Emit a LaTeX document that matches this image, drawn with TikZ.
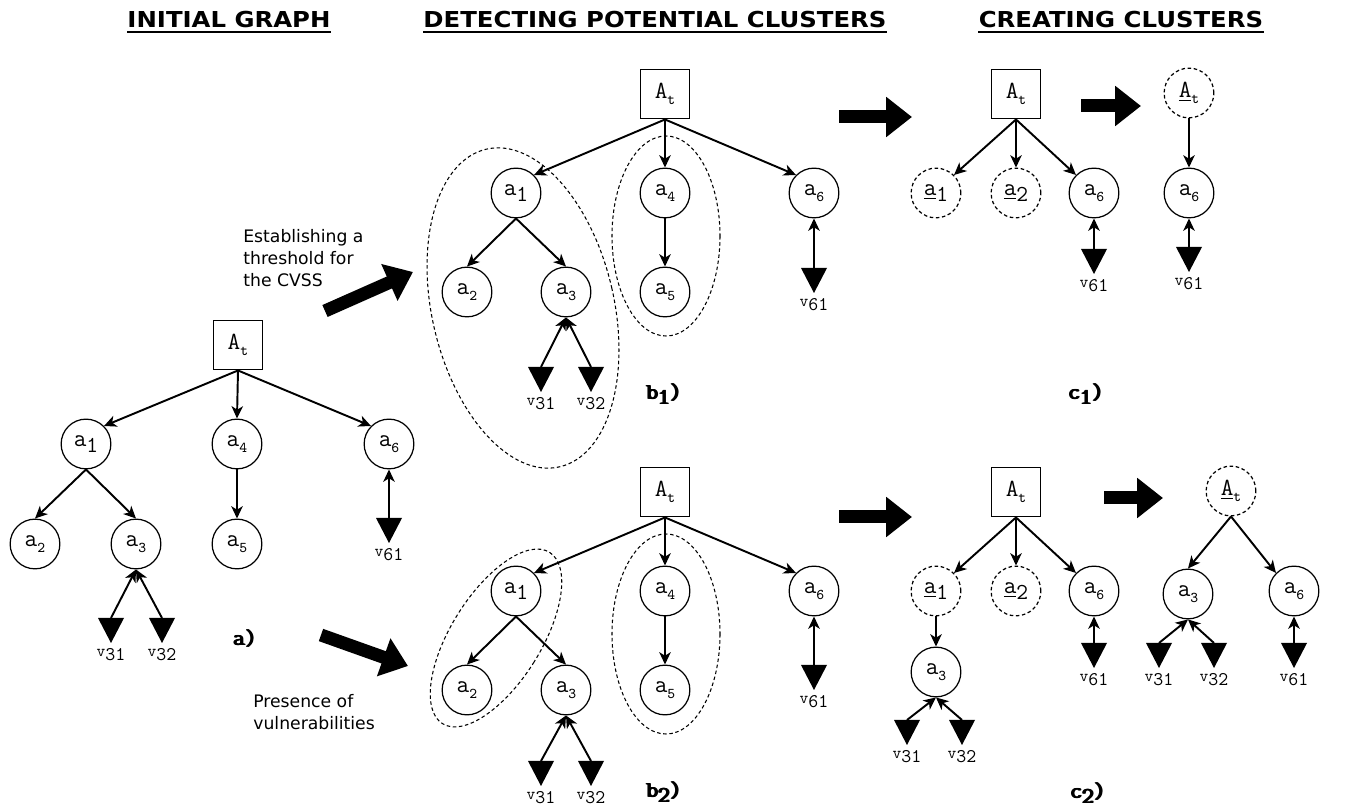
\documentclass[tikz,border=0pt]{standalone}
\usepackage{fontspec}
\usepackage{graphicx}
\setmainfont{DejaVu Sans}
\usetikzlibrary{arrows.meta,positioning}
\tikzstyle{attack} = [draw, rectangle, line width=0.7pt, minimum size=28.3pt, inner sep=0pt, font=\fontsize{14}{14}\selectfont\ttfamily]
\tikzstyle{asset} = [draw, circle, line width=0.7pt, minimum size=28.3pt, inner sep=0pt, font=\fontsize{14}{14}\selectfont\ttfamily]
\tikzstyle{merged} = [asset, dash pattern=on 2pt off 1.5pt]
\tikzstyle{link} = [line width=1.1pt, -{Stealth[length=7pt,width=6.5pt,inset=2pt]}]
\tikzstyle{group} = [line width=0.6pt, dash pattern=on 2pt off 1.5pt]
\tikzstyle{bigarrow} = [line width=7.4pt, -{Triangle[length=14.7pt,width=22pt]}]
\tikzstyle{vlab} = [inner sep=0pt, font=\ttfamily]
\tikzstyle{panel} = [inner sep=0pt, font=\fontsize{13}{13}\selectfont\ttfamily]
\tikzstyle{heading} = [inner sep=0pt, font=\fontsize{12.5}{15}\selectfont\bfseries]
\tikzstyle{note} = [inner sep=0pt, align=left, font=\fontsize{9.8}{12.5}\selectfont]
\newcommand{\asub}[2]{#1\raisebox{-3.5pt}{\fontsize{8.5}{8.5}\selectfont #2}}
\newcommand{\anum}[2]{\raisebox{1pt}{#1}\raisebox{-2pt}{\fontsize{13}{13}\selectfont #2}}
\newcommand{\vname}[1]{\raisebox{1pt}{\fontsize{9.5}{9.5}\selectfont v}\raisebox{-1.5pt}{\fontsize{11}{11}\selectfont #1}}
\newcommand{\hd}[1]{\scalebox{1.11}[1]{#1}}
\newcommand{\heavy}[1]{\rlap{#1}\hspace{0.35pt}\rlap{#1}\hspace{0.35pt}\rlap{#1}\hspace{0.35pt}#1}
\newcommand{\vuln}[3]{%
  \coordinate (#1) at #2;
  \fill (#1) ++(-13,0) -- ++(26,0) -- ++(-13,25) -- cycle;
  \path (#1) ++(0,37) node[vlab] (#1l) {\vname{#3}};}

\begin{document}
\begin{tikzpicture}[x=0.02cm,y=-0.02cm]
\useasboundingbox (0,0) rectangle (1360,810);

% headings
\node[heading] (h1) at (229,20) {\hd{INITIAL GRAPH}};
\node[heading] (h2) at (655,20) {\hd{DETECTING POTENTIAL CLUSTERS}};
\node[heading] (h3) at (1121,20) {\hd{CREATING CLUSTERS}};
\foreach \h in {h1,h2,h3}
  \draw[line width=1.1pt] ([yshift=-2pt]\h.south west) -- ([yshift=-2pt]\h.south east);

% a) initial graph
\node[attack] (Ata) at (238,345) {\asub{A}{t}};
\node[asset] (a1a) at (86,444) {\anum{a}{1}};
\node[asset] (a4a) at (237,444) {\asub{a}{4}};
\node[asset] (a6a) at (389,444) {\asub{a}{6}};
\node[asset] (a2a) at (35,544) {\asub{a}{2}};
\node[asset] (a3a) at (136,544) {\asub{a}{3}};
\node[asset] (a5a) at (237,544) {\asub{a}{5}};
\draw[link] (Ata.south) -- (a1a.north east);
\draw[link] (Ata.south) -- (a4a.north);
\draw[link] (Ata.south) -- (a6a.north west);
\draw[link] (a1a.south) -- (a2a.north);
\draw[link] (a1a.south) -- (a3a.north);
\draw[link] (a4a.south) -- (a5a.north);
\vuln{v61a}{(389,518)}{61}
\vuln{v31a}{(111,618)}{31}
\vuln{v32a}{(162,618)}{32}
\draw[link] (v61a) -- (a6a.south);
\draw[link] (v31a) -- (a3a.south);
\draw[link] (v32a) -- (a3a.south);
\node[panel] (la) at (245,639) {\heavy{a)}};

% criteria
\coordinate (cvss s) at (325,311);
\coordinate (cvss e) at (413,272);
\draw[bigarrow] (cvss s) -- (cvss e);
\node[note, anchor=north west] (cvss) at (243,229) {Establishing a\\threshold for\\the CVSS};
\coordinate (pres s) at (321,635);
\coordinate (pres e) at (408,666);
\draw[bigarrow] (pres s) -- (pres e);
\node[note, anchor=north west] (pres) at (253,694) {Presence of\\vulnerabilities};

% b1) detecting
\node[attack] (Atb1) at (665,94) {\asub{A}{t}};
\node[asset] (a1b1) at (516,193) {\anum{a}{1}};
\node[asset] (a4b1) at (665,193) {\asub{a}{4}};
\node[asset] (a6b1) at (814,193) {\asub{a}{6}};
\node[asset] (a2b1) at (467,292) {\asub{a}{2}};
\node[asset] (a3b1) at (566,292) {\asub{a}{3}};
\node[asset] (a5b1) at (665,292) {\asub{a}{5}};
\draw[link] (Atb1.south) -- (a1b1.north east);
\draw[link] (Atb1.south) -- (a4b1.north);
\draw[link] (Atb1.south) -- (a6b1.north west);
\draw[link] (a1b1.south) -- (a2b1.north);
\draw[link] (a1b1.south) -- (a3b1.north);
\draw[link] (a4b1.south) -- (a5b1.north);
\vuln{v61b1}{(814,268)}{61}
\vuln{v31b1}{(541,367)}{31}
\vuln{v32b1}{(591,367)}{32}
\draw[link] (v61b1) -- (a6b1.south);
\draw[link] (v31b1) -- (a3b1.south);
\draw[link] (v32b1) -- (a3b1.south);
\draw[group, rotate around={13:(523,308)}] (523,308) ellipse [x radius=91, y radius=163];
\draw[group] (666,236) ellipse [x radius=54, y radius=100];
\node[panel] (lb1) at (664,394) {\heavy{b\raisebox{-3pt}{1})}};

% b2) detecting
\node[attack] (Atb2) at (665,492) {\asub{A}{t}};
\node[asset] (a1b2) at (516,591) {\anum{a}{1}};
\node[asset] (a4b2) at (665,591) {\asub{a}{4}};
\node[asset] (a6b2) at (814,591) {\asub{a}{6}};
\node[asset] (a2b2) at (467,690) {\asub{a}{2}};
\node[asset] (a3b2) at (566,690) {\asub{a}{3}};
\node[asset] (a5b2) at (665,690) {\asub{a}{5}};
\draw[link] (Atb2.south) -- (a1b2.north east);
\draw[link] (Atb2.south) -- (a4b2.north);
\draw[link] (Atb2.south) -- (a6b2.north west);
\draw[link] (a1b2.south) -- (a2b2.north);
\draw[link] (a1b2.south) -- (a3b2.north);
\draw[link] (a4b2.south) -- (a5b2.north);
\vuln{v61b2}{(814,665)}{61}
\vuln{v31b2}{(541,761)}{31}
\vuln{v32b2}{(591,761)}{32}
\draw[link] (v61b2) -- (a6b2.south);
\draw[link] (v31b2) -- (a3b2.south);
\draw[link] (v32b2) -- (a3b2.south);
\draw[group, rotate around={-32:(496,638)}] (496,638) ellipse [x radius=45, y radius=101];
\draw[group] (666,634) ellipse [x radius=54, y radius=100];
\node[panel] (lb2) at (664,792) {\heavy{b\raisebox{-3pt}{2})}};

% c1) creating
\coordinate (c1 s) at (839,117);
\coordinate (c1 e) at (912,117);
\draw[bigarrow] (c1 s) -- (c1 e);
\node[attack] (Atc1) at (1016,94) {\asub{A}{t}};
\node[merged] (a1c1) at (936,193) {\anum{\underline{a}}{1}};
\node[merged] (a2c1) at (1016,193) {\anum{\underline{a}}{2}};
\node[asset] (a6c1) at (1094,193) {\asub{a}{6}};
\draw[link] (Atc1.south) -- (a1c1.north east);
\draw[link] (Atc1.south) -- (a2c1.north);
\draw[link] (Atc1.south) -- (a6c1.north west);
\vuln{v61c1}{(1094,249)}{61}
\draw[link] (v61c1) -- (a6c1.south);
\coordinate (c1m s) at (1081,106);
\coordinate (c1m e) at (1141,106);
\draw[bigarrow] (c1m s) -- (c1m e);
\node[merged] (Atc1m) at (1189,93) {\asub{\underline{A}}{t}};
\node[asset] (a6c1m) at (1189,193) {\asub{a}{6}};
\draw[link] (Atc1m.south) -- (a6c1m.north);
\vuln{v61c1m}{(1189,247)}{61}
\draw[link] (v61c1m) -- (a6c1m.south);
\node[panel] (lc1) at (1086,394) {\heavy{c\raisebox{-3pt}{1})}};

% c2) creating
\coordinate (c2 s) at (839,517);
\coordinate (c2 e) at (912,517);
\draw[bigarrow] (c2 s) -- (c2 e);
\node[attack] (Atc2) at (1016,492) {\asub{A}{t}};
\node[merged] (a1c2) at (936,591) {\anum{\underline{a}}{1}};
\node[merged] (a2c2) at (1016,591) {\anum{\underline{a}}{2}};
\node[asset] (a6c2) at (1094,591) {\asub{a}{6}};
\node[asset] (a3c2) at (936,672) {\asub{a}{3}};
\draw[link] (Atc2.south) -- (a1c2.north east);
\draw[link] (Atc2.south) -- (a2c2.north);
\draw[link] (Atc2.south) -- (a6c2.north west);
\draw[link] (a1c2.south) -- (a3c2.north);
\vuln{v31c2}{(907,720)}{31}
\vuln{v32c2}{(962,720)}{32}
\vuln{v61c2}{(1094,643)}{61}
\draw[link] (v31c2) -- (a3c2.south);
\draw[link] (v32c2) -- (a3c2.south);
\draw[link] (v61c2) -- (a6c2.south);
\coordinate (c2m s) at (1104,498);
\coordinate (c2m e) at (1163,498);
\draw[bigarrow] (c2m s) -- (c2m e);
\node[merged] (Atc2m) at (1231,491) {\asub{\underline{A}}{t}};
\node[asset] (a3c2m) at (1188,594) {\asub{a}{3}};
\node[asset] (a6c2m) at (1294,591) {\asub{a}{6}};
\draw[link] (Atc2m.south) -- (a3c2m.north);
\draw[link] (Atc2m.south) -- (a6c2m.north west);
\vuln{v31c2m}{(1159,643)}{31}
\vuln{v32c2m}{(1214,643)}{32}
\vuln{v61c2m}{(1294,643)}{61}
\draw[link] (v31c2m) -- (a3c2m.south);
\draw[link] (v32c2m) -- (a3c2m.south);
\draw[link] (v61c2m) -- (a6c2m.south);
\node[panel] (lc2) at (1088,793) {\heavy{c\raisebox{-3pt}{2})}};
\end{tikzpicture}
\end{document}
